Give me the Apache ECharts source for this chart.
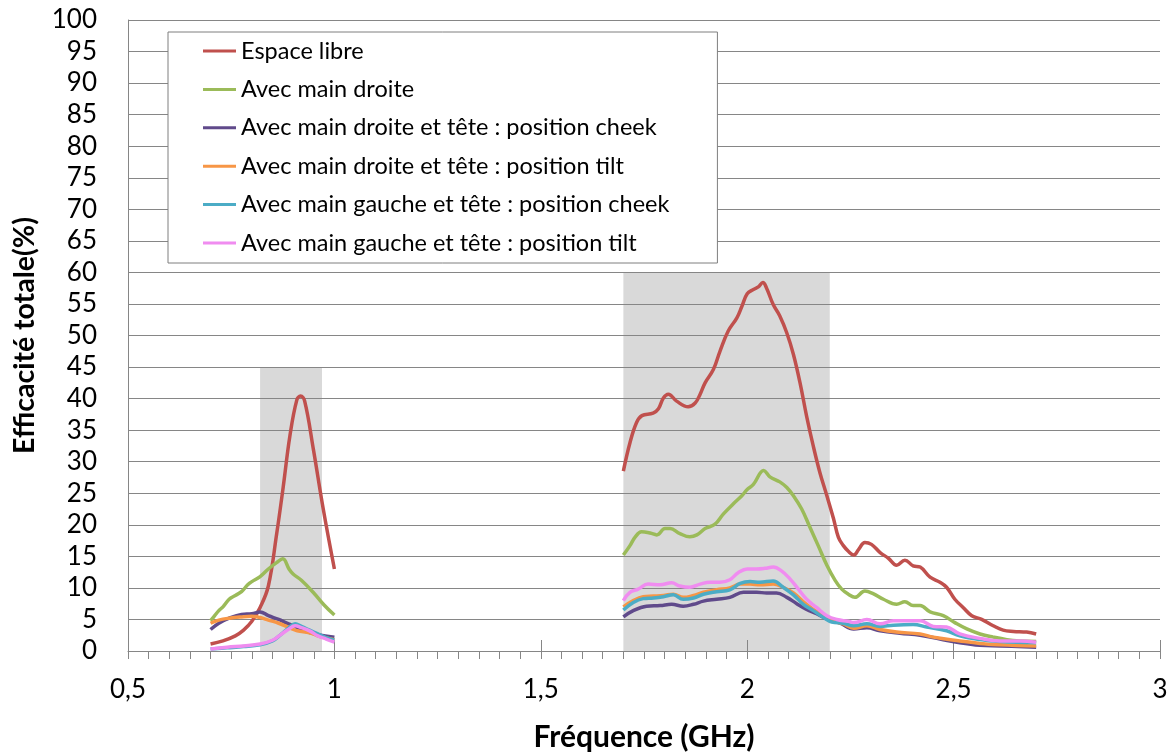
<!DOCTYPE html>
<html><head><meta charset="utf-8">
<script src="https://cdn.jsdelivr.net/npm/echarts@6/dist/echarts.min.js"></script>
<style>html,body{margin:0;padding:0;background:#fff}#c{width:1173px;height:753px}</style>
</head><body><div id="c"></div>
<script>
// ---- data ----
const seriesNames = [
  'Espace libre',
  'Avec main droite',
  'Avec main droite et tête : position cheek',
  'Avec main droite et tête : position tilt',
  'Avec main gauche et tête : position cheek',
  'Avec main gauche et tête : position tilt'
];
const seriesColors = ['#C0504D', '#9BBB59', '#604A8B', '#F79646', '#4BACC6', '#F08CF0'];

// shaded frequency bands: [start GHz, end GHz, height %]
const bandLow = [0.82, 0.97, 45];
const bandHigh = [1.70, 2.20, 60];

// [frequency GHz, efficiency %]
const espaceLibreLow = [[0.70,1.1],[0.73,1.6],[0.76,2.4],[0.78,3.3],[0.80,4.7],[0.82,6.9],[0.84,10.3],[0.86,18.5],[0.876,26],[0.892,34],[0.909,39.8],[0.918,40.4],[0.928,39.6],[0.949,32],[0.973,22.5],[1.0,13]];
const espaceLibreHigh = [[1.70,28.5],[1.716,33.0],[1.732,36.2],[1.745,37.3],[1.772,37.7],[1.785,38.4],[1.797,40.1],[1.809,40.7],[1.829,39.6],[1.857,38.7],[1.874,39.3],[1.886,40.7],[1.898,42.5],[1.918,44.6],[1.934,47.5],[1.954,50.7],[1.975,52.8],[1.987,54.6],[2.0,56.6],[2.015,57.3],[2.027,57.7],[2.038,58.4],[2.047,57.5],[2.063,54.9],[2.079,53.1],[2.096,50.4],[2.112,47.0],[2.128,42.5],[2.144,37.2],[2.16,32.5],[2.176,28.3],[2.193,24.6],[2.209,21.0],[2.221,18.0],[2.233,16.7],[2.245,15.8],[2.258,15.2],[2.27,16.1],[2.285,17.2],[2.301,16.9],[2.322,15.6],[2.342,14.7],[2.362,13.6],[2.382,14.4],[2.402,13.5],[2.419,13.3],[2.443,11.7],[2.467,10.9],[2.483,10.1],[2.503,8.2],[2.523,6.9],[2.544,5.6],[2.568,5.0],[2.596,4.0],[2.62,3.3],[2.645,3.1],[2.677,3.0],[2.70,2.7]];

const mainDroiteLow = [[0.70,4.8],[0.71,5.6],[0.72,6.4],[0.73,7.0],[0.745,8.2],[0.76,8.8],[0.775,9.4],[0.79,10.5],[0.80,11.0],[0.82,11.8],[0.84,13.0],[0.86,14.0],[0.875,14.6],[0.89,13.0],[0.90,12.2],[0.92,11.2],[0.95,9.2],[0.975,7.3],[1.0,5.7]];
const mainDroiteHigh = [[1.70,15.2],[1.716,16.7],[1.728,18.0],[1.744,18.9],[1.765,18.7],[1.781,18.4],[1.801,19.4],[1.813,19.4],[1.837,18.6],[1.861,18.1],[1.878,18.4],[1.898,19.4],[1.922,20.1],[1.942,21.7],[1.966,23.3],[1.987,24.6],[2.0,25.6],[2.015,26.4],[2.04,28.6],[2.055,27.6],[2.079,26.8],[2.096,25.9],[2.112,24.6],[2.132,22.5],[2.152,19.6],[2.172,16.7],[2.193,13.6],[2.213,11.2],[2.229,9.8],[2.245,9.0],[2.261,8.5],[2.285,9.5],[2.305,9.1],[2.33,8.2],[2.362,7.4],[2.382,7.8],[2.402,7.2],[2.419,7.2],[2.443,6.2],[2.475,5.6],[2.503,4.5],[2.532,3.5],[2.564,2.7],[2.596,2.2],[2.629,1.8],[2.661,1.6],[2.70,1.5]];

const droiteCheekLow = [[0.70,3.4],[0.72,4.4],[0.745,5.2],[0.775,5.8],[0.80,5.9],[0.82,6.2],[0.84,5.6],[0.865,5.0],[0.885,4.4],[0.905,3.9],[0.93,3.1],[0.96,2.6],[1.0,2.2]];
const droiteCheekHigh = [[1.70,5.4],[1.724,6.4],[1.756,7.1],[1.789,7.2],[1.817,7.4],[1.845,7.1],[1.87,7.4],[1.894,7.9],[1.926,8.2],[1.958,8.5],[1.991,9.3],[2.023,9.3],[2.047,9.2],[2.071,9.2],[2.096,8.5],[2.12,7.5],[2.144,6.6],[2.168,5.9],[2.193,5.1],[2.225,4.4],[2.258,3.5],[2.29,3.7],[2.322,3.2],[2.37,2.8],[2.419,2.5],[2.467,1.9],[2.515,1.3],[2.564,0.9],[2.612,0.8],[2.70,0.6]];

const droiteTiltLow = [[0.70,4.4],[0.72,4.9],[0.745,5.2],[0.775,5.4],[0.80,5.5],[0.82,5.3],[0.84,4.9],[0.865,4.4],[0.89,3.7],[0.91,3.2],[0.94,2.9],[0.965,2.3],[1.0,1.8]];
const droiteTiltHigh = [[1.70,7.0],[1.724,8.0],[1.748,8.6],[1.773,8.7],[1.797,8.8],[1.821,9.0],[1.845,8.5],[1.87,8.8],[1.894,9.3],[1.926,9.7],[1.958,10.0],[1.983,10.6],[2.007,10.6],[2.031,10.5],[2.063,10.6],[2.087,10.1],[2.112,9.2],[2.136,7.8],[2.16,6.6],[2.185,5.6],[2.205,4.8],[2.233,4.3],[2.258,3.6],[2.29,4.0],[2.322,3.4],[2.362,3.0],[2.419,2.7],[2.451,2.2],[2.515,1.6],[2.564,1.2],[2.612,1.0],[2.70,0.8]];

const gaucheCheekLow = [[0.70,0.3],[0.74,0.5],[0.78,0.7],[0.82,1.0],[0.85,1.6],[0.87,2.6],[0.89,3.7],[0.905,4.3],[0.92,3.9],[0.94,3.3],[0.96,2.7],[0.98,2.1],[1.0,1.7]];
const gaucheCheekHigh = [[1.70,6.5],[1.724,7.7],[1.748,8.3],[1.773,8.4],[1.797,8.6],[1.821,8.9],[1.845,8.2],[1.87,8.4],[1.894,9.0],[1.926,9.4],[1.958,9.7],[1.983,10.7],[2.007,11.0],[2.031,10.9],[2.063,11.1],[2.087,10.1],[2.112,8.9],[2.136,7.4],[2.16,6.4],[2.185,5.3],[2.205,4.6],[2.233,4.4],[2.258,4.0],[2.29,4.3],[2.322,3.9],[2.354,4.1],[2.402,4.2],[2.435,3.8],[2.483,3.2],[2.515,2.4],[2.564,1.8],[2.612,1.5],[2.70,1.3]];

const gaucheTiltLow = [[0.70,0.3],[0.74,0.6],[0.78,0.8],[0.82,1.1],[0.85,1.7],[0.87,2.6],[0.89,3.5],[0.905,4.0],[0.92,3.7],[0.94,3.2],[0.96,2.4],[0.98,1.9],[1.0,1.4]];
const gaucheTiltHigh = [[1.70,8.0],[1.716,9.3],[1.736,9.8],[1.76,10.6],[1.789,10.5],[1.817,10.8],[1.837,10.3],[1.861,10.1],[1.886,10.6],[1.91,10.9],[1.934,10.9],[1.958,11.3],[1.978,12.4],[2.0,13.0],[2.023,13.0],[2.043,13.1],[2.063,13.3],[2.083,12.7],[2.104,11.4],[2.124,9.8],[2.144,8.2],[2.168,6.9],[2.193,5.6],[2.217,5.0],[2.245,4.7],[2.258,4.5],[2.29,5.0],[2.322,4.3],[2.354,4.8],[2.386,4.8],[2.419,4.8],[2.451,3.9],[2.483,3.8],[2.515,2.7],[2.564,2.0],[2.612,1.6],[2.661,1.6],[2.70,1.4]];

const curves = [
  [espaceLibreLow, espaceLibreHigh],
  [mainDroiteLow, mainDroiteHigh],
  [droiteCheekLow, droiteCheekHigh],
  [droiteTiltLow, droiteTiltHigh],
  [gaucheCheekLow, gaucheCheekHigh],
  [gaucheTiltLow, gaucheTiltHigh]
];

// axes
const xMin = 0.5, xMax = 3, xStep = 0.5;
const yMin = 0, yMax = 100, yStep = 5;
const xTitle = 'Fréquence (GHz)';
const yTitle = 'Efficacité totale(%)';

// ---- chart ----
const FONT = 'Lato';
const GRID_COLOR = '#868686';
const chart = echarts.init(document.getElementById('c'), null, {renderer: 'canvas'});

const series = [{
  type: 'custom',
  name: 'bands',
  z: 0,
  silent: true,
  encode: {x: [0, 1], y: 2},
  data: [bandLow, bandHigh],
  renderItem: function (params, api) {
    const p0 = api.coord([api.value(0), api.value(2)]);
    const p1 = api.coord([api.value(1), 0]);
    return {type: 'rect', shape: {x: p0[0], y: p0[1], width: p1[0] - p0[0], height: p1[1] - p0[1]}, style: {fill: '#d9d9d9'}};
  }
}];
curves.forEach(function (pair, i) {
  pair.forEach(function (seg) {
    series.push({
      type: 'line',
      name: seriesNames[i],
      data: seg,
      z: 2,
      smooth: 0.4,
      showSymbol: false,
      symbol: 'none',
      color: seriesColors[i],
      lineStyle: {width: 3.5, color: seriesColors[i]},
      itemStyle: {color: seriesColors[i]}
    });
  });
});

const fmtX = function (v) { return String(+v.toFixed(2)).replace('.', ','); };

chart.setOption({
  animation: false,
  backgroundColor: '#fff',
  grid: {left: 128, right: 13, top: 20, bottom: 102, containLabel: false, outerBoundsMode: 'none'},
  legend: {
    orient: 'vertical', left: 168, top: 32,
    data: seriesNames,
    icon: 'rect', itemWidth: 33, itemHeight: 3, itemGap: 12.4,
    padding: [6, 48, 7, 35],
    backgroundColor: '#fff', borderColor: '#7f7f7f', borderWidth: 1, borderRadius: 0,
    selectedMode: false,
    textStyle: {fontFamily: FONT, fontSize: 23.5, color: '#000', lineHeight: 26}
  },
  xAxis: [{
    type: 'value', min: xMin, max: xMax, interval: xStep,
    position: 'bottom',
    name: xTitle, nameLocation: 'middle', nameGap: 71,
    nameTextStyle: {fontFamily: FONT, fontSize: 30, fontWeight: 'bold', color: '#000'},
    axisLine: {show: true, lineStyle: {color: GRID_COLOR, width: 1}},
    axisTick: {show: true, inside: false, length: 8, lineStyle: {color: GRID_COLOR}},
    minorTick: {show: true, splitNumber: 10, length: 8, lineStyle: {color: GRID_COLOR}},
    axisLabel: {formatter: fmtX, fontFamily: FONT, fontSize: 26, color: '#000', margin: 26},
    splitLine: {show: false}
  }, {
    type: 'value', min: xMin, max: xMax, interval: xStep,
    position: 'top', offset: -631,
    axisLine: {show: false},
    axisTick: {show: true, inside: false, length: 11, lineStyle: {color: GRID_COLOR}},
    axisLabel: {show: false},
    splitLine: {show: false}
  }],
  yAxis: {
    type: 'value', min: yMin, max: yMax, interval: yStep,
    z: 1,
    name: yTitle, nameLocation: 'middle', nameGap: 89,
    nameTextStyle: {fontFamily: FONT, fontSize: 28.5, fontWeight: 'bold', color: '#000'},
    axisLine: {show: true, lineStyle: {color: GRID_COLOR, width: 1}},
    axisTick: {show: false},
    axisLabel: {fontFamily: FONT, fontSize: 26, color: '#000', margin: 31},
    splitLine: {show: true, lineStyle: {color: GRID_COLOR, width: 1}}
  },
  series: series
});
</script>
</body></html>
